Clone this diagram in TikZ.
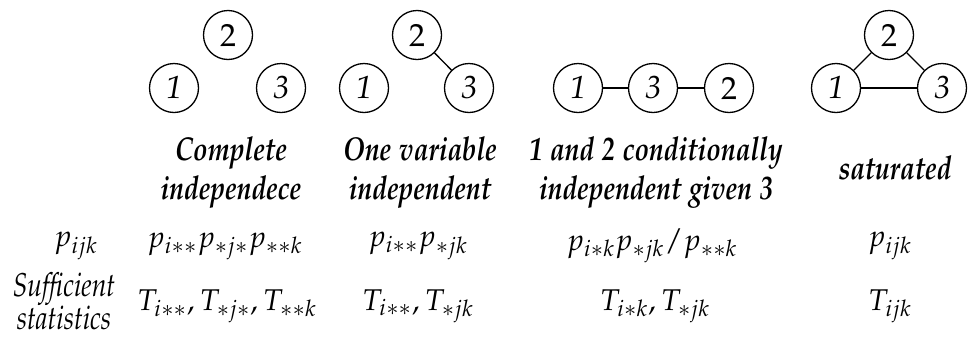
\documentclass[tikz,border=0pt]{standalone}
\usepackage[T1]{fontenc}
\usepackage[sc]{mathpazo}
\usepackage{graphicx}
\newcommand{\narrow}[1]{\scalebox{0.8}[1]{\begin{tabular}{@{}c@{}}#1\end{tabular}}}
\begin{document}
\begin{tikzpicture}[x=0.5pt,y=-0.5pt,
  vtx/.style={circle,draw,line width=0.65pt,minimum size=24.5pt,inner sep=0pt,font=\fontsize{16}{18}\selectfont},
  edge/.style={line width=0.65pt},
  head/.style={inner sep=0pt,font=\fontsize{16.5}{19.5}\selectfont\bfseries\itshape},
  cell/.style={font=\fontsize{15}{19.5}\selectfont},
  lab/.style={inner sep=0pt,font=\fontsize{16.5}{16}\selectfont\itshape}]
\useasboundingbox (0,0) rectangle (972,338);
% column 1
\node[vtx] (a2) at (228,35) {2};
\node[vtx] (a1) at (174,88) {\itshape 1};
\node[vtx] (a3) at (281,88) {\itshape 3};
% column 2
\node[vtx] (b2) at (417,35) {2};
\node[vtx] (b1) at (364,88) {\itshape 1};
\node[vtx] (b3) at (469,88) {\itshape 3};
\draw[edge] (b2) -- (b3);
% column 3
\node[vtx] (c1) at (578,88) {\itshape 1};
\node[vtx] (c3) at (653,88) {\itshape 3};
\node[vtx] (c2) at (729,88) {2};
\draw[edge] (c1) -- (c3);
\draw[edge] (c3) -- (c2);
% column 4
\node[vtx] (d2) at (889,35) {2};
\node[vtx] (d1) at (836,88) {\itshape 1};
\node[vtx] (d3) at (942,88) {\itshape 3};
\draw[edge] (d1) -- (d2);
\draw[edge] (d2) -- (d3);
\draw[edge] (d1) -- (d3);
% headers
\node[head] (h1) at (231,172) {\narrow{Complete\\independece}};
\node[head] (h2) at (420,172) {\narrow{One variable\\independent}};
\node[head] (h3) at (656,172) {\narrow{1 and 2 conditionally\\independent given 3}};
\node[head] (h4) at (895,172) {\narrow{saturated}};
% p row
\node[cell] (p0) at (76,246) {$p_{ijk}$};
\node[cell] (p1) at (225,246) {$p_{i\ast\ast}p_{\ast j\ast}p_{\ast\ast k}$};
\node[cell] (p2) at (418,246) {$p_{i\ast\ast}p_{\ast jk}$};
\node[cell] (p3) at (652,246) {$p_{i\ast k}p_{\ast jk}/p_{\ast\ast k}$};
\node[cell] (p4) at (890,246) {$p_{ijk}$};
% T row
\node[lab] (t0) at (64,306) {\narrow{Sufficient\\statistics}};
\node[cell] (t1) at (227,306) {$T_{i\ast\ast},T_{\ast j\ast},T_{\ast\ast k}$};
\node[cell] (t2) at (418,306) {$T_{i\ast\ast},T_{\ast jk}$};
\node[cell] (t3) at (655,306) {$T_{i\ast k},T_{\ast jk}$};
\node[cell] (t4) at (890,306) {$T_{ijk}$};
\end{tikzpicture}
\end{document}
